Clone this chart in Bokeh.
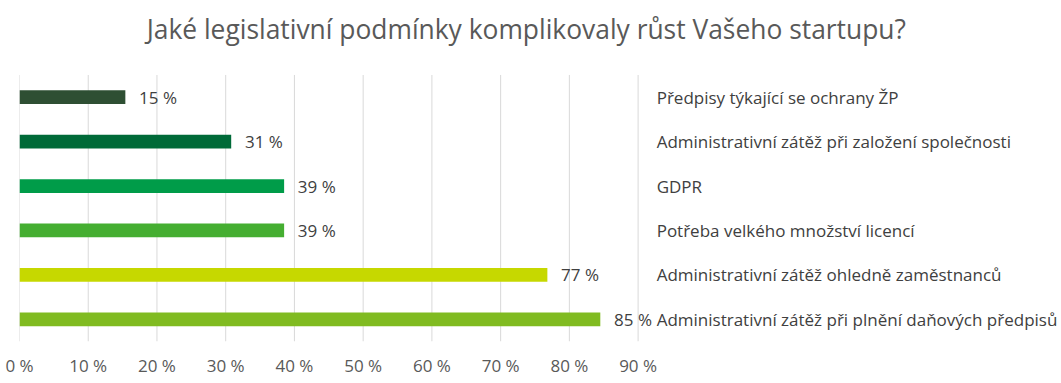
from bokeh.plotting import figure
from bokeh.models import ColumnDataSource, Range1d, FixedTicker
from bokeh.core.properties import value
from bokeh.embed import file_html
from bokeh.resources import INLINE

categories = [
    "Předpisy týkající se ochrany ŽP",
    "Administrativní zátěž při založení společnosti",
    " GDPR",
    "Potřeba velkého množství licencí",
    "Administrativní zátěž ohledně zaměstnanců",
    "Administrativní zátěž při plnění daňových předpisů",
]
values = [15.4, 30.8, 38.5, 38.5, 76.8, 84.5]
value_labels = ["15 %", "31 %", "39 %", "39 %", "77 %", "85 %"]
colors = ["#2E4F33", "#006A38", "#009C49", "#45AE31", "#C6D800", "#80BB21"]
tick_values = [0, 10, 20, 30, 40, 50, 60, 70, 80, 90]
tick_labels = {t: f"{t} %" for t in tick_values}
title_text = "Jaké legislativní podmínky komplikovaly růst Vašeho startupu?"

FONT = "Open Sans"

# layout: frame spans whole top of canvas; title drawn inside as text glyph
PX_PER_CAT = 44.44
Y_TOP = -0.5 - 74.5 / PX_PER_CAT
TITLE_Y = Y_TOP + 29 / PX_PER_CAT

idx = list(range(len(categories)))
src = ColumnDataSource(dict(
    y=idx, v=values, c=colors, lab=value_labels, cat=categories,
    lx=[v + 2.0 for v in values], cx=[92.7] * len(values),
))

p = figure(width=1061, height=383, output_backend="svg", toolbar_location=None,
           x_range=Range1d(0, 151.6), y_range=Range1d(5.5, Y_TOP),
           min_border_left=19, min_border_right=0, min_border_bottom=42,
           min_border_top=0)
p.outline_line_color = None
p.background_fill_color = "white"

# vertical gridlines at tick values, limited to the bar area
p.segment(x0=tick_values, y0=[-0.5] * len(tick_values), x1=tick_values,
          y1=[5.5] * len(tick_values), line_color="#D9D9D9", line_width=1)

p.hbar(y="y", left=0, right="v", height=0.31, fill_color="c", line_color=None, source=src)
p.text(x="lx", y="y", text="lab", source=src, text_font=value(FONT), text_font_size="17px",
       text_color="#404040", text_baseline="middle", text_align="left")
p.text(x="cx", y="y", text="cat", source=src, text_font=value(FONT), text_font_size="17px",
       text_color="#404040", text_baseline="middle", text_align="left")

p.text(x=[18.5], y=[TITLE_Y], text=[title_text], text_font=value(FONT), text_font_size="26.4px",
       text_color="#595959", text_baseline="alphabetic", text_align="left")

p.yaxis.visible = False
p.ygrid.visible = False
p.xgrid.visible = False
p.xaxis.ticker = FixedTicker(ticks=tick_values)
p.xaxis.major_label_overrides = tick_labels
p.xaxis.axis_line_color = None
p.xaxis.major_tick_line_color = None
p.xaxis.minor_tick_line_color = None
p.xaxis.major_tick_out = 0
p.xaxis.major_label_standoff = 12
p.xaxis.major_label_text_font = FONT
p.xaxis.major_label_text_font_size = "17px"
p.xaxis.major_label_text_color = "#595959"

open("out.html", "w").write(file_html(p, INLINE))
